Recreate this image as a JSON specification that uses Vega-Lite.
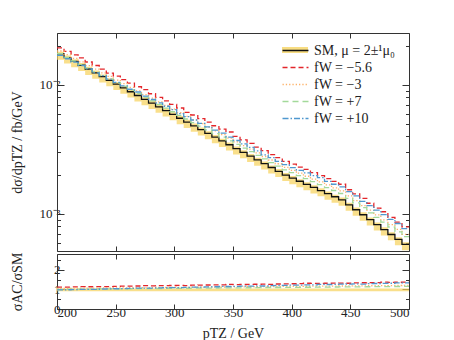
{
  "$schema": "https://vega.github.io/schema/vega-lite/v6.json",
  "padding": {"left": 10, "top": 32, "right": 5, "bottom": 0},
  "config": {
    "font": "Liberation Serif",
    "view": {"stroke": null},
    "axis": {"labelFont": "Liberation Serif", "labelFontSize": 13, "labelColor": "#222", "titleFont": "Liberation Serif", "titleFontSize": 14, "titleFontWeight": "normal", "titleColor": "#222", "domainColor": "#333", "tickColor": "#333", "grid": false, "labelOverlap": false},
    "legend": {"labelFont": "Liberation Serif", "labelFontSize": 14, "labelColor": "#222"}
  },
  "datasets": {
    "h": [
      {"x":200,"SM":0.01743,"m56":0.01940,"m3":0.01834,"p7":0.01746,"p10":0.01698,"lo":0.01569,"hi":0.01813,"rm56":1.113,"rm3":1.052,"rp7":1.002,"rp10":0.974,"rlo":0.9,"rhi":1.04},
      {"x":206,"SM":0.01629,"m56":0.01821,"m3":0.01719,"p7":0.01637,"p10":0.01598,"lo":0.01466,"hi":0.01694,"rm56":1.118,"rm3":1.055,"rp7":1.005,"rp10":0.981,"rlo":0.9,"rhi":1.04},
      {"x":212,"SM":0.01523,"m56":0.01710,"m3":0.01611,"p7":0.01535,"p10":0.01505,"lo":0.01371,"hi":0.01584,"rm56":1.123,"rm3":1.058,"rp7":1.008,"rp10":0.988,"rlo":0.9,"rhi":1.04},
      {"x":218,"SM":0.01423,"m56":0.01621,"m3":0.01510,"p7":0.01439,"p10":0.01416,"lo":0.01281,"hi":0.01480,"rm56":1.139,"rm3":1.061,"rp7":1.011,"rp10":0.995,"rlo":0.9,"rhi":1.04},
      {"x":224,"SM":0.01330,"m56":0.01508,"m3":0.01415,"p7":0.01349,"p10":0.01333,"lo":0.01197,"hi":0.01383,"rm56":1.134,"rm3":1.064,"rp7":1.014,"rp10":1.002,"rlo":0.9,"rhi":1.04},
      {"x":230,"SM":0.01243,"m56":0.01416,"m3":0.01326,"p7":0.01264,"p10":0.01243,"lo":0.01119,"hi":0.01293,"rm56":1.139,"rm3":1.067,"rp7":1.017,"rp10":1.000,"rlo":0.9,"rhi":1.04},
      {"x":236,"SM":0.01162,"m56":0.01329,"m3":0.01243,"p7":0.01185,"p10":0.01182,"lo":0.01046,"hi":0.01208,"rm56":1.144,"rm3":1.070,"rp7":1.020,"rp10":1.017,"rlo":0.9,"rhi":1.04},
      {"x":242,"SM":0.01086,"m56":0.01237,"m3":0.01165,"p7":0.01111,"p10":0.01112,"lo":0.00977,"hi":0.01129,"rm56":1.139,"rm3":1.073,"rp7":1.023,"rp10":1.024,"rlo":0.9,"rhi":1.04},
      {"x":248,"SM":0.01015,"m56":0.01172,"m3":0.01092,"p7":0.01041,"p10":0.01046,"lo":0.00914,"hi":0.01056,"rm56":1.155,"rm3":1.076,"rp7":1.026,"rp10":1.031,"rlo":0.9,"rhi":1.04},
      {"x":254,"SM":0.009485,"m56":0.01100,"m3":0.01023,"p7":0.00976,"p10":0.00985,"lo":0.00854,"hi":0.00986,"rm56":1.160,"rm3":1.079,"rp7":1.029,"rp10":1.038,"rlo":0.9,"rhi":1.04},
      {"x":260,"SM":0.008865,"m56":0.01033,"m3":0.00959,"p7":0.00915,"p10":0.00927,"lo":0.00798,"hi":0.00922,"rm56":1.165,"rm3":1.082,"rp7":1.032,"rp10":1.046,"rlo":0.9,"rhi":1.04},
      {"x":266,"SM":0.008285,"m56":0.00969,"m3":0.00899,"p7":0.00857,"p10":0.00882,"lo":0.00746,"hi":0.00862,"rm56":1.170,"rm3":1.085,"rp7":1.035,"rp10":1.065,"rlo":0.9,"rhi":1.04},
      {"x":272,"SM":0.007743,"m56":0.00921,"m3":0.00842,"p7":0.00804,"p10":0.00821,"lo":0.00697,"hi":0.00805,"rm56":1.190,"rm3":1.088,"rp7":1.038,"rp10":1.060,"rlo":0.9,"rhi":1.04},
      {"x":278,"SM":0.007237,"m56":0.00855,"m3":0.00790,"p7":0.00753,"p10":0.00772,"lo":0.00651,"hi":0.00753,"rm56":1.181,"rm3":1.091,"rp7":1.041,"rp10":1.067,"rlo":0.9,"rhi":1.04},
      {"x":284,"SM":0.006764,"m56":0.00802,"m3":0.00740,"p7":0.00706,"p10":0.00726,"lo":0.00609,"hi":0.00703,"rm56":1.186,"rm3":1.094,"rp7":1.044,"rp10":1.074,"rlo":0.9,"rhi":1.04},
      {"x":290,"SM":0.006321,"m56":0.00753,"m3":0.00693,"p7":0.00662,"p10":0.00684,"lo":0.00569,"hi":0.00657,"rm56":1.191,"rm3":1.097,"rp7":1.047,"rp10":1.082,"rlo":0.9,"rhi":1.04},
      {"x":296,"SM":0.005908,"m56":0.00707,"m3":0.00650,"p7":0.00620,"p10":0.00643,"lo":0.00532,"hi":0.00614,"rm56":1.196,"rm3":1.100,"rp7":1.050,"rp10":1.089,"rlo":0.9,"rhi":1.04},
      {"x":302,"SM":0.005522,"m56":0.00663,"m3":0.00609,"p7":0.00581,"p10":0.00599,"lo":0.00497,"hi":0.00574,"rm56":1.201,"rm3":1.103,"rp7":1.053,"rp10":1.085,"rlo":0.9,"rhi":1.04},
      {"x":308,"SM":0.005160,"m56":0.00614,"m3":0.00571,"p7":0.00545,"p10":0.00569,"lo":0.00464,"hi":0.00537,"rm56":1.190,"rm3":1.106,"rp7":1.056,"rp10":1.103,"rlo":0.9,"rhi":1.04},
      {"x":314,"SM":0.004823,"m56":0.00585,"m3":0.00535,"p7":0.00511,"p10":0.00535,"lo":0.00434,"hi":0.00502,"rm56":1.212,"rm3":1.109,"rp7":1.059,"rp10":1.110,"rlo":0.9,"rhi":1.04},
      {"x":320,"SM":0.004507,"m56":0.00549,"m3":0.00501,"p7":0.00479,"p10":0.00504,"lo":0.00406,"hi":0.00469,"rm56":1.217,"rm3":1.112,"rp7":1.062,"rp10":1.118,"rlo":0.9,"rhi":1.04},
      {"x":326,"SM":0.004213,"m56":0.00515,"m3":0.00470,"p7":0.00449,"p10":0.00474,"lo":0.00379,"hi":0.00438,"rm56":1.222,"rm3":1.115,"rp7":1.065,"rp10":1.125,"rlo":0.9,"rhi":1.04},
      {"x":332,"SM":0.003937,"m56":0.00483,"m3":0.00440,"p7":0.00420,"p10":0.00446,"lo":0.00354,"hi":0.00409,"rm56":1.227,"rm3":1.118,"rp7":1.068,"rp10":1.132,"rlo":0.9,"rhi":1.04},
      {"x":338,"SM":0.003680,"m56":0.00454,"m3":0.00413,"p7":0.00394,"p10":0.00423,"lo":0.00331,"hi":0.00383,"rm56":1.233,"rm3":1.121,"rp7":1.071,"rp10":1.150,"rlo":0.9,"rhi":1.04},
      {"x":344,"SM":0.003439,"m56":0.00432,"m3":0.00387,"p7":0.00369,"p10":0.00394,"lo":0.00310,"hi":0.00358,"rm56":1.255,"rm3":1.124,"rp7":1.074,"rp10":1.146,"rlo":0.9,"rhi":1.04},
      {"x":350,"SM":0.003214,"m56":0.00400,"m3":0.00362,"p7":0.00346,"p10":0.00371,"lo":0.00289,"hi":0.00334,"rm56":1.243,"rm3":1.127,"rp7":1.077,"rp10":1.154,"rlo":0.9,"rhi":1.04},
      {"x":356,"SM":0.003004,"m56":0.00375,"m3":0.00339,"p7":0.00324,"p10":0.00349,"lo":0.00270,"hi":0.00312,"rm56":1.248,"rm3":1.130,"rp7":1.080,"rp10":1.161,"rlo":0.9,"rhi":1.04},
      {"x":362,"SM":0.002808,"m56":0.00352,"m3":0.00318,"p7":0.00304,"p10":0.00328,"lo":0.00253,"hi":0.00292,"rm56":1.253,"rm3":1.133,"rp7":1.083,"rp10":1.168,"rlo":0.9,"rhi":1.04},
      {"x":368,"SM":0.002624,"m56":0.00330,"m3":0.00298,"p7":0.00285,"p10":0.00308,"lo":0.00236,"hi":0.00273,"rm56":1.259,"rm3":1.136,"rp7":1.086,"rp10":1.175,"rlo":0.9,"rhi":1.04},
      {"x":374,"SM":0.002452,"m56":0.00310,"m3":0.00279,"p7":0.00267,"p10":0.00287,"lo":0.00221,"hi":0.00255,"rm56":1.264,"rm3":1.139,"rp7":1.089,"rp10":1.170,"rlo":0.9,"rhi":1.04},
      {"x":380,"SM":0.002292,"m56":0.00288,"m3":0.00262,"p7":0.00250,"p10":0.00273,"lo":0.00206,"hi":0.00238,"rm56":1.255,"rm3":1.142,"rp7":1.092,"rp10":1.190,"rlo":0.9,"rhi":1.04},
      {"x":386,"SM":0.002142,"m56":0.00273,"m3":0.00245,"p7":0.00235,"p10":0.00256,"lo":0.00193,"hi":0.00223,"rm56":1.274,"rm3":1.145,"rp7":1.095,"rp10":1.197,"rlo":0.9,"rhi":1.04},
      {"x":392,"SM":0.002002,"m56":0.00256,"m3":0.00230,"p7":0.00220,"p10":0.00241,"lo":0.00180,"hi":0.00208,"rm56":1.279,"rm3":1.148,"rp7":1.098,"rp10":1.204,"rlo":0.9,"rhi":1.04},
      {"x":398,"SM":0.001894,"m56":0.00243,"m3":0.00218,"p7":0.00209,"p10":0.00229,"lo":0.00170,"hi":0.00197,"rm56":1.285,"rm3":1.151,"rp7":1.101,"rp10":1.211,"rlo":0.9,"rhi":1.04},
      {"x":404,"SM":0.001792,"m56":0.00231,"m3":0.00207,"p7":0.00198,"p10":0.00218,"lo":0.00161,"hi":0.00186,"rm56":1.290,"rm3":1.154,"rp7":1.104,"rp10":1.218,"rlo":0.9,"rhi":1.04},
      {"x":410,"SM":0.001696,"m56":0.00222,"m3":0.00196,"p7":0.00188,"p10":0.00208,"lo":0.00153,"hi":0.00176,"rm56":1.310,"rm3":1.157,"rp7":1.107,"rp10":1.226,"rlo":0.9,"rhi":1.04},
      {"x":416,"SM":0.001605,"m56":0.00209,"m3":0.00186,"p7":0.00178,"p10":0.00198,"lo":0.00144,"hi":0.00167,"rm56":1.300,"rm3":1.160,"rp7":1.110,"rp10":1.233,"rlo":0.9,"rhi":1.04},
      {"x":422,"SM":0.001518,"m56":0.00198,"m3":0.00177,"p7":0.00169,"p10":0.00191,"lo":0.00137,"hi":0.00158,"rm56":1.305,"rm3":1.163,"rp7":1.113,"rp10":1.255,"rlo":0.9,"rhi":1.04},
      {"x":428,"SM":0.001437,"m56":0.00188,"m3":0.00168,"p7":0.00160,"p10":0.00179,"lo":0.00129,"hi":0.00149,"rm56":1.311,"rm3":1.166,"rp7":1.116,"rp10":1.247,"rlo":0.9,"rhi":1.04},
      {"x":434,"SM":0.001359,"m56":0.00179,"m3":0.00159,"p7":0.00152,"p10":0.00170,"lo":0.00122,"hi":0.00141,"rm56":1.316,"rm3":1.169,"rp7":1.119,"rp10":1.254,"rlo":0.9,"rhi":1.04},
      {"x":440,"SM":0.001286,"m56":0.00170,"m3":0.00151,"p7":0.00144,"p10":0.00162,"lo":0.00116,"hi":0.00134,"rm56":1.321,"rm3":1.172,"rp7":1.122,"rp10":1.262,"rlo":0.9,"rhi":1.04},
      {"x":446,"SM":0.001177,"m56":0.00154,"m3":0.00138,"p7":0.00132,"p10":0.00149,"lo":0.00106,"hi":0.00122,"rm56":1.310,"rm3":1.175,"rp7":1.125,"rp10":1.269,"rlo":0.9,"rhi":1.04},
      {"x":452,"SM":0.001078,"m56":0.00143,"m3":0.00127,"p7":0.00122,"p10":0.00138,"lo":0.000970,"hi":0.00112,"rm56":1.331,"rm3":1.178,"rp7":1.128,"rp10":1.276,"rlo":0.9,"rhi":1.04},
      {"x":458,"SM":0.000986,"m56":0.00132,"m3":0.00116,"p7":0.00112,"p10":0.00125,"lo":0.000887,"hi":0.00103,"rm56":1.337,"rm3":1.181,"rp7":1.131,"rp10":1.270,"rlo":0.9,"rhi":1.04},
      {"x":464,"SM":0.000903,"m56":0.00121,"m3":0.00107,"p7":0.00102,"p10":0.00116,"lo":0.000813,"hi":0.000939,"rm56":1.342,"rm3":1.184,"rp7":1.134,"rp10":1.290,"rlo":0.9,"rhi":1.04},
      {"x":470,"SM":0.000827,"m56":0.00111,"m3":0.000982,"p7":0.000940,"p10":0.00107,"lo":0.000744,"hi":0.000860,"rm56":1.347,"rm3":1.187,"rp7":1.137,"rp10":1.298,"rlo":0.9,"rhi":1.04},
      {"x":476,"SM":0.000757,"m56":0.00104,"m3":0.000901,"p7":0.000863,"p10":0.000988,"lo":0.000681,"hi":0.000787,"rm56":1.370,"rm3":1.190,"rp7":1.140,"rp10":1.305,"rlo":0.9,"rhi":1.04},
      {"x":482,"SM":0.000693,"m56":0.000940,"m3":0.000827,"p7":0.000792,"p10":0.000909,"lo":0.000624,"hi":0.000721,"rm56":1.357,"rm3":1.193,"rp7":1.143,"rp10":1.312,"rlo":0.9,"rhi":1.04},
      {"x":488,"SM":0.000634,"m56":0.000864,"m3":0.000758,"p7":0.000727,"p10":0.000843,"lo":0.000571,"hi":0.000659,"rm56":1.363,"rm3":1.196,"rp7":1.146,"rp10":1.330,"rlo":0.9,"rhi":1.04},
      {"x":494,"SM":0.000580,"m56":0.000793,"m3":0.000695,"p7":0.000666,"p10":0.000769,"lo":0.000522,"hi":0.000603,"rm56":1.368,"rm3":1.199,"rp7":1.149,"rp10":1.326,"rlo":0.9,"rhi":1.04},
      {"x":500,"SM":0.000580,"m56":0.000793,"m3":0.000695,"p7":0.000666,"p10":0.000769,"lo":0.000522,"hi":0.000603,"rm56":1.368,"rm3":1.199,"rp7":1.149,"rp10":1.326,"rlo":0.9,"rhi":1.04}
    ]
  },
  "data": {"name": "h"},
  "spacing": 0,
  "resolve": {"scale": {"x": "independent", "y": "independent", "stroke": "independent", "strokeDash": "independent", "fill": "independent"}},
  "vconcat": [
    {
      "width": 352,
      "height": 218,
      "resolve": {"axis": {"x": "independent", "y": "independent"}},
      "layer": [
        {
          "mark": {"type": "area", "interpolate": "step-after", "opacity": 0.7},
          "encoding": {
            "x": {"field": "x", "type": "quantitative", "scale": {"domain": [200, 500], "nice": false, "zero": false},
                  "axis": {"orient": "bottom", "values": [200, 250, 300, 350, 400, 450, 500], "labels": false, "title": null, "tickSize": -5, "minExtent": 0, "maxExtent": 0}},
            "y": {"field": "lo", "type": "quantitative", "scale": {"type": "log", "domain": [0.000516, 0.0253], "nice": false},
                  "axis": {"orient": "left", "values": [0.0006, 0.0007, 0.0008, 0.0009, 0.001, 0.002, 0.003, 0.004, 0.005, 0.006, 0.007, 0.008, 0.009, 0.01, 0.02],
                           "labelExpr": "datum.value == 0.01 ? '10⁻²' : (datum.value == 0.001 ? '10⁻³' : '')",
                           "tickSize": {"condition": {"test": "datum.value == 0.01 || datum.value == 0.001", "value": -7}, "value": -3.5},
                           "labelPadding": 4, "title": "dσ/dpTZ / fb/GeV", "titleX": -40, "titleBaseline": "middle", "minExtent": 30, "maxExtent": 30}},
            "y2": {"field": "hi"},
            "fill": {"datum": "SM", "scale": {"domain": ["SM"], "range": ["#f6d25a"]},
                     "legend": {"orient": "none", "legendX": 229, "legendY": 8, "padding": 0, "title": null, "symbolType": "M -1.5 -0.35 L 1.5 -0.35 L 1.5 0.35 L -1.5 0.35 Z", "symbolSize": 300, "symbolOpacity": 0.75, "symbolStrokeWidth": 0, "labelExpr": "''", "labelOffset": 9}}
          }
        },
        {
          "transform": [{"fold": ["SM", "m56", "m3", "p7", "p10"], "as": ["s", "v"]}],
          "mark": {"type": "line", "interpolate": "step-after", "strokeWidth": 1.3},
          "encoding": {
            "x": {"field": "x", "type": "quantitative",
                  "axis": {"orient": "top", "values": [200, 250, 300, 350, 400, 450, 500], "labels": false, "title": null, "tickSize": -5, "minExtent": 0, "maxExtent": 0}},
            "y": {"field": "v", "type": "quantitative",
                  "axis": {"orient": "right", "values": [0.0006, 0.0007, 0.0008, 0.0009, 0.001, 0.002, 0.003, 0.004, 0.005, 0.006, 0.007, 0.008, 0.009, 0.01, 0.02],
                           "labels": false, "title": null,
                           "tickSize": {"condition": {"test": "datum.value == 0.01 || datum.value == 0.001", "value": -7}, "value": -3.5}}},
            "stroke": {"field": "s", "type": "nominal",
                       "scale": {"domain": ["SM", "m56", "m3", "p7", "p10"], "range": ["#111111", "#e3262b", "#fdb36b", "#a3d99a", "#4f98cf"]},
                       "legend": {"orient": "none", "legendX": 229, "legendY": 8, "padding": 0, "title": null, "symbolType": "M -1.5 0 L 1.5 0", "symbolSize": 300, "symbolStrokeWidth": 1.4, "labelOffset": 9, "rowPadding": 0,
                                  "labelExpr": "datum.label == 'SM' ? 'SM, μ = 2±¹μ₀' : datum.label == 'm56' ? 'fW = −5.6' : datum.label == 'm3' ? 'fW = −3' : datum.label == 'p7' ? 'fW = +7' : 'fW = +10'"}},
            "strokeDash": {"field": "s", "type": "nominal",
                           "scale": {"domain": ["SM", "m56", "m3", "p7", "p10"], "range": [[1, 0], [5, 3], [1.3, 2], [6, 4], [6, 2, 1.5, 2]]}}
          }
        }
      ]
    },
    {
      "width": 352,
      "height": 55,
      "resolve": {"axis": {"x": "independent", "y": "independent"}},
      "layer": [
        {
          "mark": {"type": "area", "interpolate": "step-after", "opacity": 0.7, "color": "#f6d25a"},
          "encoding": {
            "x": {"field": "x", "type": "quantitative", "scale": {"domain": [200, 500], "nice": false, "zero": false},
                  "axis": {"orient": "bottom", "values": [200, 250, 300, 350, 400, 450, 500], "tickSize": -5, "labelPadding": 2, "title": "pTZ / GeV", "titleY": 24, "titleBaseline": "middle"}},
            "y": {"field": "rlo", "type": "quantitative", "scale": {"domain": [0, 2.8], "nice": false},
                  "axis": {"orient": "left", "values": [0, 0.5, 1, 1.5, 2, 2.5],
                           "labelExpr": "datum.value % 1 == 0 ? format(datum.value, 'd') : ''",
                           "tickSize": {"condition": {"test": "datum.value % 1 == 0", "value": -7}, "value": -3.5},
                           "labelPadding": 4, "title": "σAC/σSM", "titleX": -40, "titleBaseline": "middle", "minExtent": 30, "maxExtent": 30}},
            "y2": {"field": "rhi"}
          }
        },
        {
          "mark": {"type": "line", "interpolate": "step-after", "strokeWidth": 1.3, "color": "#e3262b", "strokeDash": [5, 3]},
          "encoding": {
            "x": {"field": "x", "type": "quantitative",
                  "axis": {"orient": "top", "values": [200, 250, 300, 350, 400, 450, 500], "labels": false, "title": null, "tickSize": -5, "minExtent": 0, "maxExtent": 0}},
            "y": {"field": "rm56", "type": "quantitative",
                  "axis": {"orient": "right", "values": [0, 0.5, 1, 1.5, 2, 2.5], "labels": false, "title": null,
                           "tickSize": {"condition": {"test": "datum.value % 1 == 0", "value": -7}, "value": -3.5}}}
          }
        },
        {
          "mark": {"type": "line", "interpolate": "step-after", "strokeWidth": 1.3, "color": "#fdb36b", "strokeDash": [1.3, 2]},
          "encoding": {"x": {"field": "x", "type": "quantitative", "axis": null}, "y": {"field": "rm3", "type": "quantitative", "axis": null}}
        },
        {
          "mark": {"type": "line", "interpolate": "step-after", "strokeWidth": 1.3, "color": "#a3d99a", "strokeDash": [6, 4]},
          "encoding": {"x": {"field": "x", "type": "quantitative", "axis": null}, "y": {"field": "rp7", "type": "quantitative", "axis": null}}
        },
        {
          "mark": {"type": "line", "interpolate": "step-after", "strokeWidth": 1.3, "color": "#4f98cf", "strokeDash": [6, 2, 1.5, 2]},
          "encoding": {"x": {"field": "x", "type": "quantitative", "axis": null}, "y": {"field": "rp10", "type": "quantitative", "axis": null}}
        }
      ]
    }
  ]
}
